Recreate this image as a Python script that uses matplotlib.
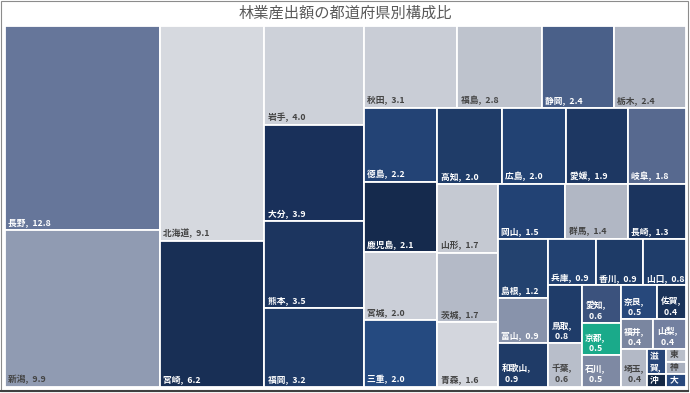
import matplotlib
matplotlib.use("Agg")
import matplotlib.pyplot as plt
from matplotlib.patches import Rectangle
from matplotlib.lines import Line2D
import matplotlib.colors as mcolors

plt.rcParams['font.family'] = ['Noto Sans CJK JP', 'DejaVu Sans']

title = "林業産出額の都道府県別構成比"

names = ["長野", "新潟", "北海道", "宮崎", "岩手", "大分", "熊本", "福岡",
         "秋田", "福島", "静岡", "栃木", "徳島", "鹿児島", "宮城", "三重",
         "高知", "広島", "愛媛", "岐阜", "山形", "茨城", "青森", "岡山",
         "群馬", "長崎", "島根", "富山", "和歌山", "兵庫", "香川", "山口",
         "鳥取", "千葉", "愛知", "京都", "石川", "奈良", "佐賀", "福井",
         "山梨", "埼玉", "滋賀", "沖縄", "東京", "神奈川", "大阪"]

values = [12.8, 9.9, 9.1, 6.2, 4.0, 3.9, 3.5, 3.2,
          3.1, 2.8, 2.4, 2.4, 2.2, 2.1, 2.0, 2.0,
          2.0, 2.0, 1.9, 1.8, 1.7, 1.7, 1.6, 1.5,
          1.4, 1.3, 1.2, 0.9, 0.9, 0.9, 0.9, 0.8,
          0.8, 0.6, 0.6, 0.5, 0.5, 0.5, 0.4, 0.4,
          0.4, 0.4, 0.2, 0.1, 0.1, 0.1, 0.1]

colors = ["#66769A", "#909BB2", "#D6D9DF", "#182F55", "#CDD1D9", "#19305A", "#1C355F", "#1E3A66",
          "#C9CDD6", "#BEC3CD", "#4A6089", "#B0B6C3", "#234375", "#152A4D", "#CBCFD8", "#254A80",
          "#1F3C68", "#224273", "#1D3762", "#57698F", "#C5C9D2", "#B4BAC7", "#D3D6DD", "#224274",
          "#B1B7C4", "#1B345E", "#23426F", "#8893AB", "#1F3B67", "#224171", "#1E3B67", "#1F3D6A",
          "#1F3C69", "#B8BECA", "#3B527D", "#1AAA8A", "#7E89A3", "#27487B", "#1A3359", "#7A86A0",
          "#7380A0", "#B3B9C6", "#264578", "#132744", "#B9BFCA", "#A9B0BE", "#27487C"]

W_PX, H_PX = 690, 393
AX_L, AX_T, AX_R, AX_B = 5, 26, 686, 387
W = AX_R - AX_L
H = AX_B - AX_T


def layout(vals, x, y, w, h):
    rects = []
    n = len(vals)
    scale = w * h / sum(vals)
    i = 0
    while i < n:
        if i == n - 1:
            rects.append((x, y, w, h))
            break
        vertical = w >= h
        side = h if vertical else w

        def last_ratio(k):
            s = sum(vals[i:k]) * scale
            thick = s / side
            length = vals[k - 1] * scale / thick
            return max(thick / length, length / thick)

        j = i + 1
        r = last_ratio(j)
        while j < n:
            r2 = last_ratio(j + 1)
            if r2 > r:
                break
            r = r2
            j += 1
        s = sum(vals[i:j]) * scale
        thick = s / side
        pos = y if vertical else x
        for k in range(i, j):
            l = vals[k] * scale / thick
            if vertical:
                rects.append((x, pos, thick, l))
            else:
                rects.append((pos, y, l, thick))
            pos += l
        if vertical:
            x += thick
            w -= thick
        else:
            y += thick
            h -= thick
        i = j
    return rects


fig = plt.figure(figsize=(W_PX / 100, H_PX / 100), dpi=100)
fig.patch.set_facecolor("white")
ax = fig.add_axes([AX_L / W_PX, (H_PX - AX_B) / H_PX, W / W_PX, H / H_PX])
ax.set_xlim(0, W)
ax.set_ylim(H, 0)
ax.axis("off")

renderer = fig.canvas.get_renderer()
FS = 6.3
PAD = 3.5
LS = 1.3
LINE_H = FS * LS * 100 / 72


def measure(s):
    t = ax.text(0, 0, s, fontsize=FS, fontweight="bold")
    bb = t.get_window_extent(renderer)
    t.remove()
    return bb.width


def lum(c):
    r, g, b = mcolors.to_rgb(c)
    return (r + g + b) / 3 * 255


rects = layout(values, 0, 0, W, H)
for (x, y, w, h), name, v, c in zip(rects, names, values, colors):
    rect = Rectangle((x, y), w, h, facecolor=c, edgecolor="white", linewidth=1.3)
    ax.add_patch(rect)
    tc = "white" if lum(c) < 155 else "#444444"
    vs = f"{v:.1f}"
    pad = PAD if w > 14 else 1.0
    avail = w - 4.5 if w > 14 else w - 1.5
    full = f"{name},  {vs}"
    if measure(full) <= avail:
        lines = [full]
    elif max(measure(name + ","), measure("  " + vs)) <= avail + 2:
        lines = [name + ",", "  " + vs]
    else:
        lines, cur = [], ""
        for ch in name + "," + vs:
            if cur and measure(cur + ch) > avail:
                lines.append(cur)
                cur = ch
            else:
                cur += ch
        if cur:
            lines.append(cur)
    max_lines = max(1, int((h - 2) // LINE_H))
    lines = lines[:max_lines]
    txt = ax.text(x + pad, y + h - 2.5, "\n".join(lines), fontsize=FS, fontweight="bold",
                  color=tc, ha="left", va="bottom", linespacing=LS)
    txt.set_clip_path(rect)

fig.text(0.5, 1 - 13 / H_PX, title, ha="center", va="center",
         fontsize=11, color="#595959")

fig.add_artist(Rectangle((0.5 / W_PX, 2 / H_PX), 687.5 / W_PX, 390.5 / H_PX,
                         transform=fig.transFigure, fill=False,
                         edgecolor="#8C8C8C", linewidth=0.8))
fig.add_artist(Line2D([0, 688 / W_PX], [2 / H_PX, 2 / H_PX], transform=fig.transFigure,
                      color="#404040", linewidth=1.5))

fig.savefig("out.png", dpi=100)
